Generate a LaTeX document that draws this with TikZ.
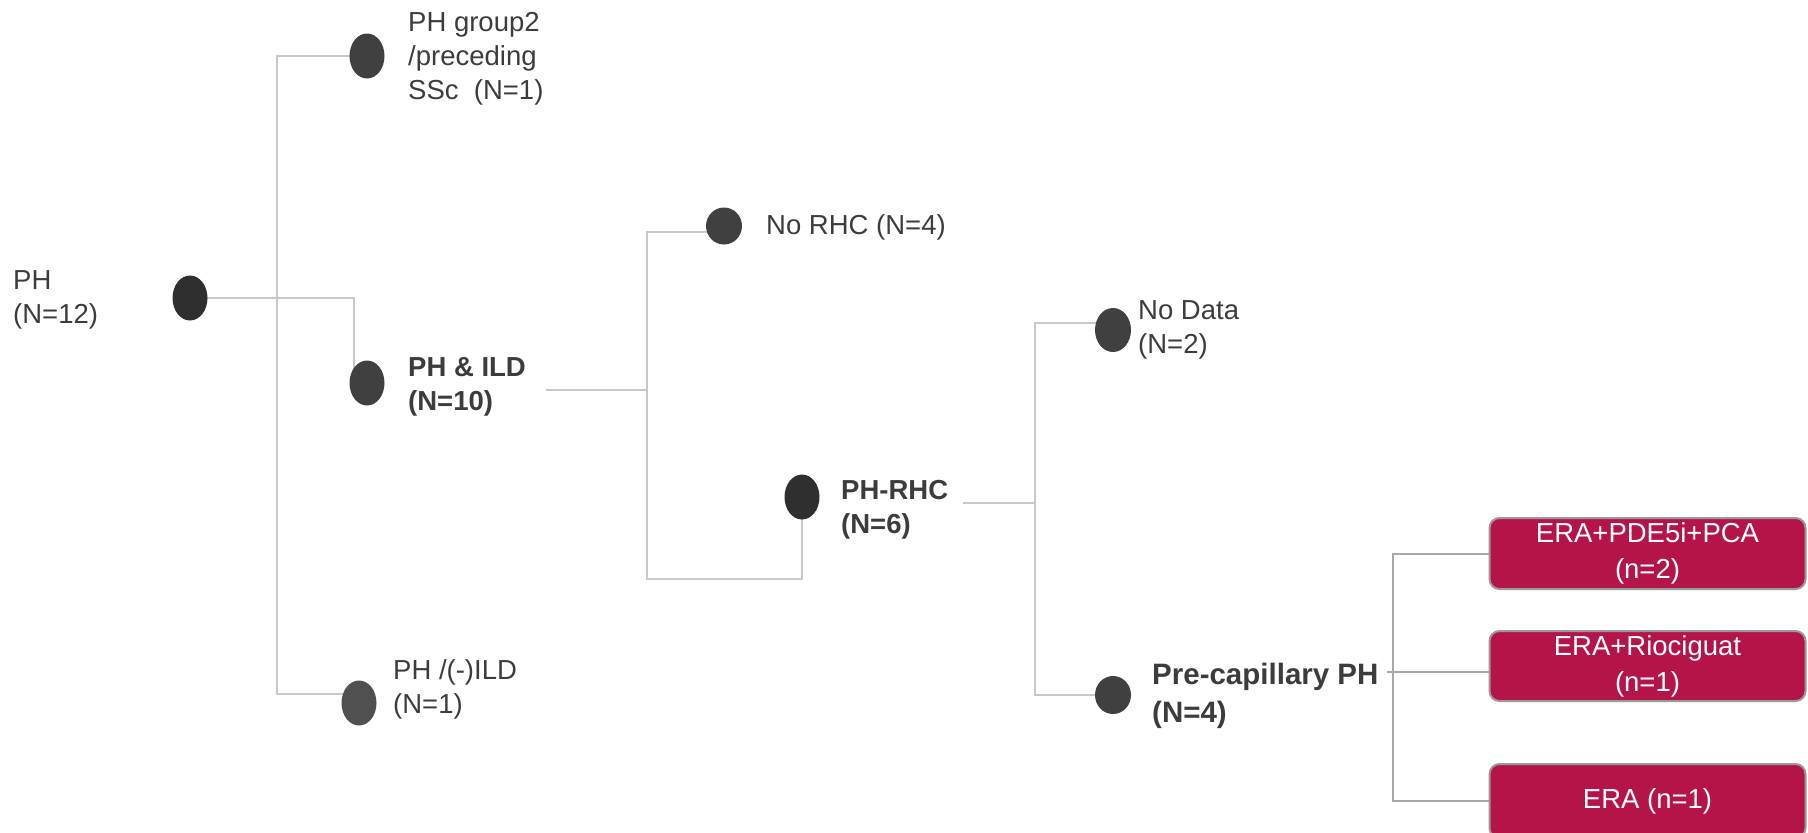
\documentclass[tikz,border=0pt]{standalone}
\usepackage{fontspec}
\setmainfont{Liberation Sans}
\usetikzlibrary{shapes.geometric,backgrounds}
\definecolor{txt}{HTML}{3C3C3C}
\definecolor{ln}{HTML}{C8C8C8}
\definecolor{ln2}{HTML}{A8A8A8}
\definecolor{era}{HTML}{B51449}
\definecolor{bord}{HTML}{9A9A9A}
\definecolor{ca}{HTML}{2F2F2F}
\definecolor{cb}{HTML}{404040}
\definecolor{cc}{HTML}{505050}
\begin{document}
\begin{tikzpicture}[x=1pt,y=-1pt,
  pdot/.style={ellipse, inner sep=0pt, minimum width=35pt, minimum height=45pt, fill=#1},
  lbl/.style={anchor=west, inner sep=0pt, align=left, text=txt, font=\fontsize{27.5}{34}\selectfont},
  blbl/.style={anchor=west, inner sep=0pt, align=left, text=txt, font=\fontsize{27.5}{34}\selectfont\bfseries},
  conn/.style={draw=ln, line width=2pt},
  conn2/.style={draw=ln2, line width=2pt},
  erabox/.style={rectangle, rounded corners=10pt, fill=era, draw=bord, line width=2pt, text=white, align=center, minimum width=316pt, inner sep=0pt, font=\fontsize{27.5}{36}\selectfont}]
\useasboundingbox (0,0) rectangle (1808,833);

% dots
\node[pdot=ca] (e0) at (190,298) {};
\node[pdot=cb] (e1) at (367,56) {};
\node[pdot=cb] (e2) at (367,383) {};
\node[pdot=cc] (e3) at (359,703) {};
\node[pdot=cb, minimum width=36pt, minimum height=37pt] (e4) at (724,226) {};
\node[pdot=ca] (e5) at (802,497) {};
\node[pdot=cb, minimum width=36pt, minimum height=44pt] (e6) at (1113,330) {};
\node[pdot=cb, minimum width=36pt, minimum height=38pt] (e7) at (1113,695) {};

% labels
\node[lbl] (t0) at (13,300) {PH\\(N=12)};
\node[lbl] (t1) at (408,59) {PH group2\\/preceding\\SSc\ \ (N=1)};
\node[blbl] (t2) at (408,387) {PH \& ILD\\(N=10)};
\node[lbl] (t3) at (393,689) {PH /(-)ILD\\(N=1)};
\node[lbl] (t4) at (766,227) {No RHC (N=4)};
\node[blbl] (t5) at (841,510) {PH-RHC\\(N=6)};
\node[lbl] (t6) at (1138,330) {No Data\\(N=2)};
\node[blbl, font=\fontsize{29.5}{38}\selectfont\bfseries] (t7) at (1152,696) {Pre-capillary PH\\(N=4)};

% treatment boxes
\node[erabox, minimum height=71pt] (b1) at (1647.5,553.5) {ERA+PDE5i+PCA\\(n=2)};
\node[erabox, minimum height=70pt] (b2) at (1647.5,666) {ERA+Riociguat\\(n=1)};
\node[erabox, minimum height=74pt] (b3) at (1647.5,801) {ERA (n=1)};

\begin{scope}[on background layer]
  \draw[conn] (e0.center) -| ([xshift=-13pt]e2.center);
  \coordinate (tb) at (277,694);
  \draw[conn] (e1.center) -| (tb) -- (e3.center |- tb);
  \coordinate (s2) at (546,390);
  \coordinate (j2) at (647,390);
  \draw[conn] (s2) -- (j2);
  \coordinate (k2) at (647,579);
  \draw[conn] ([yshift=-6pt]e4.center) -| (k2) -| (e5.center);
  \coordinate (s5) at (963,503);
  \coordinate (j5) at (1035,503);
  \draw[conn] (s5) -- (j5);
  \coordinate (x5) at (1035,0);
  \draw[conn] ([yshift=7pt]e6.center) -| (x5 |- e7.center) -- (e7.center);
  \coordinate (s7) at (1387,672);
  \draw[conn2] (s7) -- ([yshift=-6pt]b2.west);
  \coordinate (bx) at (1393,0);
  \draw[conn2] (b1.west) -| (bx |- b3.west) -- (b3.west);
\end{scope}
\end{tikzpicture}
\end{document}
